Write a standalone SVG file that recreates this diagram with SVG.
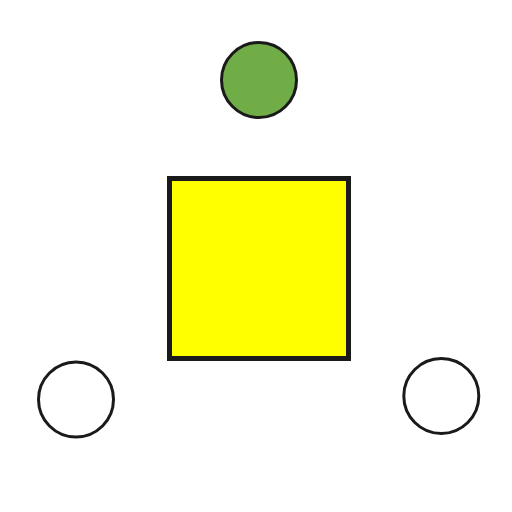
<svg xmlns="http://www.w3.org/2000/svg" width="512" height="512" viewBox="0 0 512 512">
<style>
.n{stroke:#1a1a1a;stroke-width:3}
</style>
<rect width="512" height="512" fill="#ffffff"/>
<g id="top-circle"><circle class="n" cx="259" cy="80" r="37.5" fill="#70ad47"/></g>
<g id="square"><rect x="169.5" y="178.5" width="179" height="180" fill="#ffff00" stroke="#1a1a1a" stroke-width="5"/></g>
<g id="left-circle"><circle class="n" cx="76" cy="399.5" r="37.5" fill="#ffffff"/></g>
<g id="right-circle"><circle class="n" cx="441.3" cy="396" r="37.5" fill="#ffffff"/></g>
<g id="connectors"></g>
</svg>
